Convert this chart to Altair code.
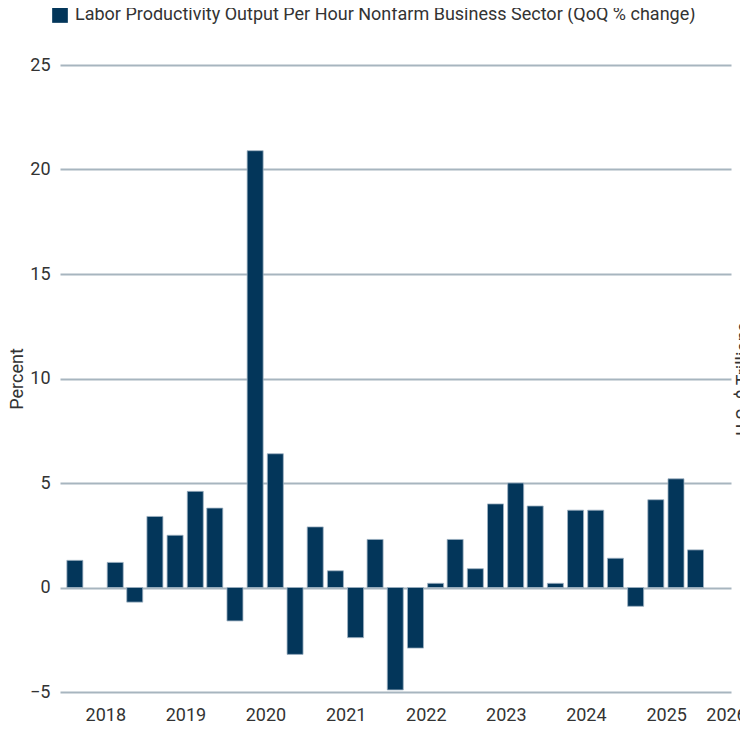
import altair as alt
import pandas as pd

# ---- data ----
quarters = [
    "2017Q3", "2017Q4", "2018Q1", "2018Q2", "2018Q3", "2018Q4",
    "2019Q1", "2019Q2", "2019Q3", "2019Q4", "2020Q1", "2020Q2",
    "2020Q3", "2020Q4", "2021Q1", "2021Q2", "2021Q3", "2021Q4",
    "2022Q1", "2022Q2", "2022Q3", "2022Q4", "2023Q1", "2023Q2",
    "2023Q3", "2023Q4", "2024Q1", "2024Q2", "2024Q3", "2024Q4",
    "2025Q1", "2025Q2",
]
values = [
    1.3, None, 1.2, -0.7, 3.4, 2.5,
    4.6, 3.8, -1.6, 20.9, 6.4, -3.2,
    2.9, 0.8, -2.4, 2.3, -4.9, -2.9,
    0.2, 2.3, 0.9, 4.0, 5.0, 3.9,
    0.2, 3.7, 3.7, 1.4, -0.9, 4.2,
    5.2, 1.8,
]
series_name = "Labor Productivity Output Per Hour Nonfarm Business Sector (QoQ % change)"
y_ticks = [-5, 0, 5, 10, 15, 20, 25]
year_ticks = [2018, 2019, 2020, 2021, 2022, 2023, 2024, 2025]
y_title = "Percent"
right_title = "U.S. $ Trillions"

NAVY = "#03365a"
GRID = "#a7b5bf"
TEXT = "#333333"
FONT = "Roboto"
FS = 18


def mid_quarter(q):
    year = int(q[:4])
    qn = int(q[-1])
    return f"{year}-{3 * (qn - 1) + 2:02d}-15"


df = pd.DataFrame({
    "date": [mid_quarter(q) for q in quarters],
    "value": values,
    "series": [series_name] * len(values),
})

x_domain = [alt.DateTime(year=2017, month=7, date=1), alt.DateTime(year=2025, month=10, date=1)]
x_values = [alt.DateTime(year=y, month=1, date=1) for y in year_ticks] + [alt.DateTime(year=2025, month=10, date=1)]

x_enc = alt.X(
    "date:T",
    scale=alt.Scale(domain=x_domain),
    axis=alt.Axis(
        title=None, values=x_values, grid=False, domain=False, ticks=False, tickSize=0,
        labelExpr="'' + (year(datum.value) + (month(datum.value) >= 6 ? 1 : 0))",
        labelPadding=14, labelFontSize=FS, labelColor=TEXT, labelFont=FONT,
        labelOverlap=False, labelFlush=False,
    ),
)

bars = alt.Chart(df).mark_bar(size=16, stroke="#9fb3c3", strokeWidth=0.8).encode(
    x=x_enc,
    y=alt.Y(
        "value:Q",
        scale=alt.Scale(domain=[-5, 25], nice=False),
        axis=alt.Axis(
            title=y_title, values=y_ticks, grid=True, gridColor=GRID, gridWidth=2,
            domain=False, ticks=False, tickSize=0, labelPadding=10,
            labelFontSize=FS, labelColor=TEXT, labelFont=FONT,
            titleFontSize=FS, titleColor=TEXT, titleFont=FONT, titleFontWeight="normal",
            titleAngle=270, titleBaseline="top", titleAlign="center",
            titleX=-52, titleY=313.5,
        ),
    ),
    color=alt.Color(
        "series:N",
        scale=alt.Scale(range=[NAVY]),
        legend=alt.Legend(
            title=None, orient="none", legendX=-9, legendY=-59, padding=0,
            symbolType="square", symbolSize=246, symbolStrokeWidth=0,
            labelFontSize=FS, labelColor=TEXT, labelFont=FONT, labelLimit=0,
            labelOffset=6,
        ),
    ),
)

right = alt.Chart(df).mark_bar(size=16, opacity=0).encode(
    x=x_enc,
    y=alt.Y(
        "value:Q",
        scale=alt.Scale(domain=[-5, 25], nice=False),
        axis=alt.Axis(
            orient="right", title=right_title, labels=False, ticks=False, domain=False,
            grid=False, titleFontSize=FS, titleColor=TEXT, titleFont=FONT,
            titleFontWeight="normal", titleAngle=270, titleBaseline="top",
            titleAlign="center", titleX=3, titleY=313.5,
        ),
    ),
)

chart = alt.layer(bars, right).resolve_scale(y="independent").properties(
    width=671, height=627,
    autosize=alt.AutoSizeParams(type="none"),
    padding={"left": 52, "top": 57, "right": 9, "bottom": 31},
    view=alt.ViewBackground(stroke="transparent", strokeWidth=0),
).configure_view(stroke="transparent", strokeWidth=0).configure_axis(
    domain=False
).configure(font=FONT)

chart.save("out.html", embed_options={"renderer": "svg", "actions": False})
